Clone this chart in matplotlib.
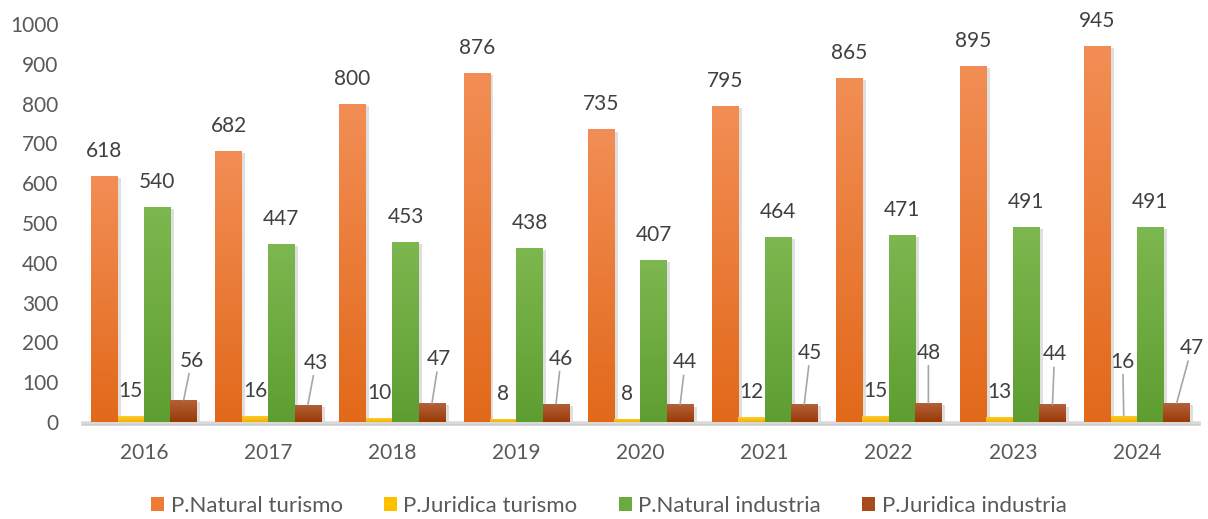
import numpy as np
import matplotlib
matplotlib.use('Agg')
import matplotlib.pyplot as plt
import matplotlib.patheffects as pe
from matplotlib.colors import LinearSegmentedColormap
from matplotlib.patches import Patch

plt.rcParams['font.family'] = ['Lato', 'DejaVu Sans']

years = ['2016', '2017', '2018', '2019', '2020', '2021', '2022', '2023', '2024']
natural_turismo = [618, 682, 800, 876, 735, 795, 865, 895, 945]
juridica_turismo = [15, 16, 10, 8, 8, 12, 15, 13, 16]
natural_industria = [540, 447, 453, 438, 407, 464, 471, 491, 491]
juridica_industria = [56, 43, 47, 46, 44, 45, 48, 44, 47]
series_names = ['P.Natural turismo', 'P.Juridica turismo',
                'P.Natural industria', 'P.Juridica industria']

# colores (arriba, abajo) del degradado de cada serie
grads = [('#F28E55', '#E2691A'), ('#FFCD2E', '#F2B200'),
         ('#7DB74F', '#5E9E31'), ('#B4623A', '#993A06')]
legend_cols = ['#EE7B33', '#FFC000', '#6BAA3F', '#A64B1C']

# desplazamiento (px) de etiquetas movidas con línea guía
brown_dx = [8, 8, 7, 5, 5, 6, 0, 2, 15]
brown_dy = [39, 42, 44, 45, 42, 51, 50, 50, 55]
yellow_move = {8: (-1, 54)}

W, H = 1208, 519
fig = plt.figure(figsize=(W / 100, H / 100), dpi=100)
ax = fig.add_axes([82 / W, 97 / H, 1117 / W, 398 / H])

x = np.arange(len(years))
bw = 0.213
data = [natural_turismo, juridica_turismo, natural_industria, juridica_industria]
txt_col = '#404040'


def grad_fill(rect, c_top, c_bot):
    x0, y0 = rect.get_xy()
    w, h = rect.get_width(), rect.get_height()
    cmap = LinearSegmentedColormap.from_list('g', [c_bot, c_top])
    g = np.linspace(0, 1, 128).reshape(-1, 1)
    im = ax.imshow(g, extent=[x0, x0 + w, y0, y0 + h], origin='lower',
                   aspect='auto', cmap=cmap, zorder=3, interpolation='bilinear')
    im.set_clip_path(rect)


for i, vals in enumerate(data):
    pos = x + (i - 1.5) * bw
    bars = ax.bar(pos, vals, bw, color=grads[i][1], zorder=2, linewidth=0)
    for b in bars:
        b.set_path_effects([pe.SimplePatchShadow(offset=(2.5, -1.5), alpha=0.25,
                                                 shadow_rgbFace='#808080'),
                            pe.Normal()])
        grad_fill(b, *grads[i])
    for j, v in enumerate(vals):
        if i == 3:
            dx, dy = brown_dx[j], brown_dy[j]
            line = True
        elif i == 1 and j in yellow_move:
            dx, dy = yellow_move[j]
            line = True
        else:
            dx, dy = 0, 25
            line = False
        kw = {}
        if line:
            kw['arrowprops'] = dict(arrowstyle='-', color='#A6A6A6', lw=1.2,
                                    shrinkA=0, shrinkB=0)
        ax.annotate(str(v), xy=(pos[j], v), xytext=(dx, dy),
                    textcoords='offset pixels', ha='center', va='center',
                    fontsize=15, color=txt_col, zorder=5, **kw)

ax.set_xlim(-0.5, len(years) - 0.5)
ax.set_ylim(0, 1000)
ax.set_yticks(range(0, 1001, 100))
ax.set_xticks(x)
ax.set_xticklabels(years)
ax.tick_params(axis='both', length=0, labelsize=15, labelcolor='#595959')
ax.tick_params(axis='y', pad=17)
ax.tick_params(axis='x', pad=15)
for s in ['top', 'right', 'left']:
    ax.spines[s].set_visible(False)
ax.spines['bottom'].set_color('#D9D9D9')
ax.spines['bottom'].set_linewidth(1.8)
ax.spines['bottom'].set_path_effects([pe.SimpleLineShadow(offset=(0, -1.5), alpha=0.2),
                                      pe.Normal()])

handles = [Patch(facecolor=c, edgecolor='none') for c in legend_cols]
fig.legend(handles, series_names, loc='center', bbox_to_anchor=(0.504, 1 - 506 / H),
           ncol=4, frameon=False, fontsize=16, labelcolor='#595959',
           handlelength=0.59, handleheight=0.59, handletextpad=0.3,
           columnspacing=1.85)

fig.savefig('out.png', dpi=100)
